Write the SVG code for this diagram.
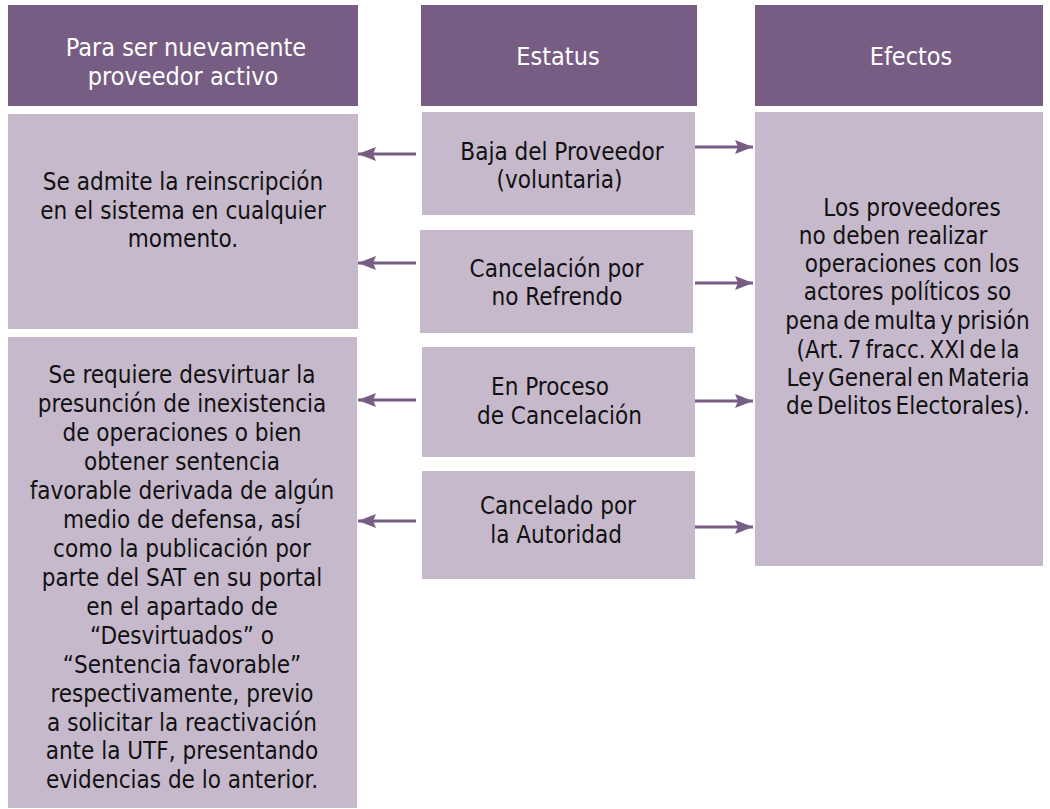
<svg xmlns="http://www.w3.org/2000/svg" width="1050" height="809" viewBox="0 0 1050 809">
<defs>
<style>
.hdr{fill:#775D83}
.box{fill:#C6B9CC}
.ht{fill:#FFFFFF;font-family:"DejaVu Sans Condensed","DejaVu Sans",sans-serif;font-stretch:condensed;font-size:25px;text-anchor:middle}
.bt{fill:#111111;font-family:"DejaVu Sans Condensed","DejaVu Sans",sans-serif;font-stretch:condensed;font-size:24px;text-anchor:middle}
.con line{stroke:#775D83;stroke-width:3}
</style>
<marker id="ah" viewBox="0 0 18 14" refX="18" refY="7" markerWidth="18" markerHeight="14" markerUnits="userSpaceOnUse" orient="auto">
<path d="M0,0 L18,7 L0,14 L3,7 Z" fill="#775D83"/>
</marker>
</defs>
<rect width="1050" height="809" fill="#FFFFFF"/>
<g id="hdr-proveedor">
<rect class="hdr" x="8" y="5" width="350" height="101"/>
<text class="ht" x="186" y="56">Para ser nuevamente</text>
<text class="ht" x="183" y="85">proveedor activo</text>
</g>
<g id="hdr-estatus">
<rect class="hdr" x="421" y="5" width="276" height="101"/>
<text class="ht" x="558" y="65">Estatus</text>
</g>
<g id="hdr-efectos">
<rect class="hdr" x="755" y="5" width="288" height="101"/>
<text class="ht" x="911" y="65">Efectos</text>
</g>
<g id="reinscripcion">
<rect class="box" x="8" y="114" width="350" height="215"/>
<text class="bt" x="183" y="190">Se admite la reinscripción</text>
<text class="bt" x="183" y="218.5">en el sistema en cualquier</text>
<text class="bt" x="183" y="247">momento.</text>
</g>
<g id="desvirtuar">
<rect class="box" x="8" y="337" width="349" height="471"/>
<text class="bt" x="182" y="383.3">Se requiere desvirtuar la</text>
<text class="bt" x="182" y="412.2">presunción de inexistencia</text>
<text class="bt" x="182" y="441.2">de operaciones o bien</text>
<text class="bt" x="182" y="470.1">obtener sentencia</text>
<text class="bt" x="182" y="499">favorable derivada de algún</text>
<text class="bt" x="182" y="528">medio de defensa, así</text>
<text class="bt" x="182" y="556.9">como la publicación por</text>
<text class="bt" x="182" y="585.8">parte del SAT en su portal</text>
<text class="bt" x="182" y="614.7">en el apartado de</text>
<text class="bt" x="182" y="643.7">“Desvirtuados” o</text>
<text class="bt" x="182" y="672.6">“Sentencia favorable”</text>
<text class="bt" x="182" y="701.5">respectivamente, previo</text>
<text class="bt" x="182" y="730.5">a solicitar la reactivación</text>
<text class="bt" x="182" y="759.4">ante la UTF, presentando</text>
<text class="bt" x="182" y="788.3">evidencias de lo anterior.</text>
</g>
<g id="baja">
<rect class="box" x="422" y="112" width="273" height="103"/>
<text class="bt" x="562" y="160">Baja del Proveedor</text>
<text class="bt" x="559.5" y="188">(voluntaria)</text>
</g>
<g id="no-refrendo">
<rect class="box" x="420" y="230" width="273" height="103"/>
<text class="bt" x="556.5" y="276.7">Cancelación por</text>
<text class="bt" x="557" y="304.5">no Refrendo</text>
</g>
<g id="en-proceso">
<rect class="box" x="422" y="347" width="273" height="110"/>
<text class="bt" x="550" y="395">En Proceso</text>
<text class="bt" x="559.5" y="424">de Cancelación</text>
</g>
<g id="cancelado">
<rect class="box" x="422" y="471" width="273" height="108"/>
<text class="bt" x="558" y="514">Cancelado por</text>
<text class="bt" x="556" y="543">la Autoridad</text>
</g>
<g id="efectos">
<rect class="box" x="755" y="112" width="288" height="454"/>
<text class="bt" x="912" y="216">Los proveedores</text>
<text class="bt" x="893" y="244">no deben realizar</text>
<text class="bt" x="912" y="272">operaciones con los</text>
<text class="bt" x="907.5" y="300">actores políticos so</text>
<text class="bt" x="907.5" y="329" word-spacing="-3">pena de multa y prisión</text>
<text class="bt" x="908" y="357.5" word-spacing="-3">(Art. 7 fracc. XXI de la</text>
<text class="bt" x="908" y="386" word-spacing="-3">Ley General en Materia</text>
<text class="bt" x="908" y="414" word-spacing="-3">de Delitos Electorales).</text>
</g>
<g id="connectors" class="con">
<line x1="416" y1="154" x2="358" y2="154" marker-end="url(#ah)"/>
<line x1="416" y1="263" x2="358" y2="263" marker-end="url(#ah)"/>
<line x1="416" y1="400" x2="358" y2="400" marker-end="url(#ah)"/>
<line x1="416" y1="521" x2="358" y2="521" marker-end="url(#ah)"/>
<line x1="695" y1="147" x2="753" y2="147" marker-end="url(#ah)"/>
<line x1="695" y1="283" x2="753" y2="283" marker-end="url(#ah)"/>
<line x1="695" y1="401" x2="753" y2="401" marker-end="url(#ah)"/>
<line x1="695" y1="527" x2="753" y2="527" marker-end="url(#ah)"/>
</g>
</svg>
